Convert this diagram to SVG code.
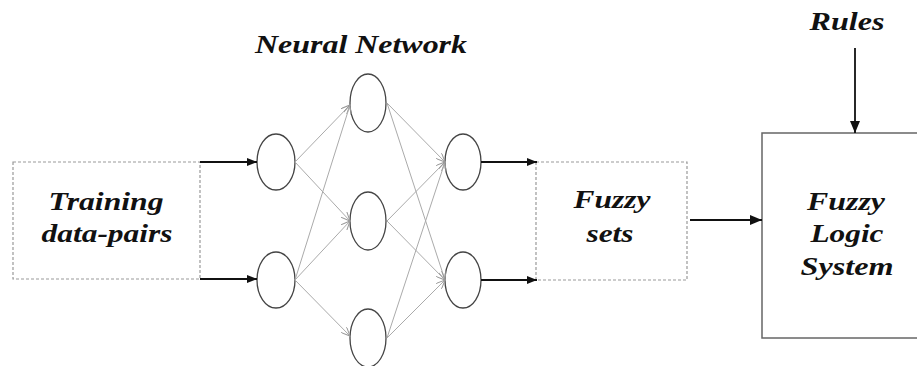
<svg xmlns="http://www.w3.org/2000/svg" width="917" height="366" viewBox="0 0 917 366">
<style>
.t{font-family:"Liberation Serif","Times New Roman",serif;font-weight:bold;font-style:italic;font-size:26px;fill:#111;text-anchor:middle}
.neu{fill:#fff;stroke:#444;stroke-width:1.3}
.dash{fill:none;stroke:#999;stroke-width:1.2;stroke-dasharray:3,2}
.blk{stroke:#111;stroke-width:1.8;fill:none}
.gry{stroke:#aaa;stroke-width:1;fill:none}
</style>
<defs>
<marker id="ah" markerWidth="10" markerHeight="8" refX="10" refY="4" orient="auto" markerUnits="userSpaceOnUse"><path d="M0,0 L10,4 L0,8 Z" fill="#111"/></marker>
<marker id="ah2" markerWidth="12" markerHeight="10" refX="12" refY="5" orient="auto" markerUnits="userSpaceOnUse"><path d="M0,0 L12,5 L0,10 Z" fill="#111"/></marker>
<marker id="oh" markerWidth="10" markerHeight="8" refX="9" refY="4" orient="auto" markerUnits="userSpaceOnUse"><path d="M0,0 L9,4 L0,8" fill="none" stroke="#999" stroke-width="1"/></marker>
</defs>
<rect width="917" height="366" fill="#fff"/>
<g id="training">
<rect class="dash" x="13" y="162" width="187" height="117"/>
<text class="t" x="106" y="210" textLength="115" lengthAdjust="spacingAndGlyphs">Training</text>
<text class="t" x="107" y="242" textLength="131" lengthAdjust="spacingAndGlyphs">data-pairs</text>
</g>
<g id="nn-label"><text class="t" x="361" y="53" textLength="212" lengthAdjust="spacingAndGlyphs">Neural Network</text></g>
<g id="in1"><ellipse class="neu" cx="276" cy="162" rx="19" ry="28"/></g>
<g id="in2"><ellipse class="neu" cx="276" cy="280" rx="19" ry="28"/></g>
<g id="h1"><ellipse class="neu" cx="368" cy="103" rx="18" ry="29"/></g>
<g id="h2"><ellipse class="neu" cx="368" cy="221" rx="18" ry="29"/></g>
<g id="h3"><ellipse class="neu" cx="368" cy="338" rx="18" ry="29"/></g>
<g id="o1"><ellipse class="neu" cx="463" cy="162" rx="18" ry="28"/></g>
<g id="o2"><ellipse class="neu" cx="463" cy="280" rx="18" ry="28"/></g>
<g id="fuzzysets">
<rect class="dash" x="536" y="162" width="151" height="118"/>
<text class="t" x="612" y="208" textLength="77" lengthAdjust="spacingAndGlyphs">Fuzzy</text>
<text class="t" x="610" y="242" textLength="47" lengthAdjust="spacingAndGlyphs">sets</text>
</g>
<g id="rules"><text class="t" x="847" y="30" textLength="75" lengthAdjust="spacingAndGlyphs">Rules</text></g>
<g id="fls">
<rect x="762" y="133" width="160" height="205" fill="none" stroke="#666" stroke-width="1.5"/>
<text class="t" x="846" y="210" textLength="78" lengthAdjust="spacingAndGlyphs">Fuzzy</text>
<text class="t" x="847" y="242" textLength="73" lengthAdjust="spacingAndGlyphs">Logic</text>
<text class="t" x="847" y="275" textLength="93" lengthAdjust="spacingAndGlyphs">System</text>
</g>
<g id="connectors">
<line class="blk" x1="200" y1="162" x2="257" y2="162" marker-end="url(#ah)"/>
<line class="blk" x1="200" y1="279" x2="257" y2="279" marker-end="url(#ah)"/>
<g class="gry">
<line x1="295" y1="162" x2="350" y2="105" marker-end="url(#oh)"/>
<line x1="295" y1="162" x2="350" y2="221" marker-end="url(#oh)"/>
<line x1="295" y1="280" x2="350" y2="105" marker-end="url(#oh)"/>
<line x1="295" y1="280" x2="350" y2="221" marker-end="url(#oh)"/>
<line x1="295" y1="280" x2="350" y2="336" marker-end="url(#oh)"/>
<line x1="387" y1="103" x2="445" y2="162" marker-end="url(#oh)"/>
<line x1="387" y1="103" x2="445" y2="280" marker-end="url(#oh)"/>
<line x1="387" y1="221" x2="445" y2="162" marker-end="url(#oh)"/>
<line x1="387" y1="221" x2="445" y2="280" marker-end="url(#oh)"/>
<line x1="387" y1="338" x2="445" y2="162" marker-end="url(#oh)"/>
<line x1="387" y1="338" x2="445" y2="280" marker-end="url(#oh)"/>
</g>
<line class="blk" x1="481" y1="162" x2="537" y2="162" marker-end="url(#ah)"/>
<line class="blk" x1="481" y1="280" x2="537" y2="280" marker-end="url(#ah)"/>
<line class="blk" x1="690" y1="220" x2="762" y2="220" stroke-width="2" marker-end="url(#ah2)"/>
<line class="blk" x1="855" y1="48" x2="855" y2="133" stroke-width="2" marker-end="url(#ah2)"/>
</g>
</svg>
